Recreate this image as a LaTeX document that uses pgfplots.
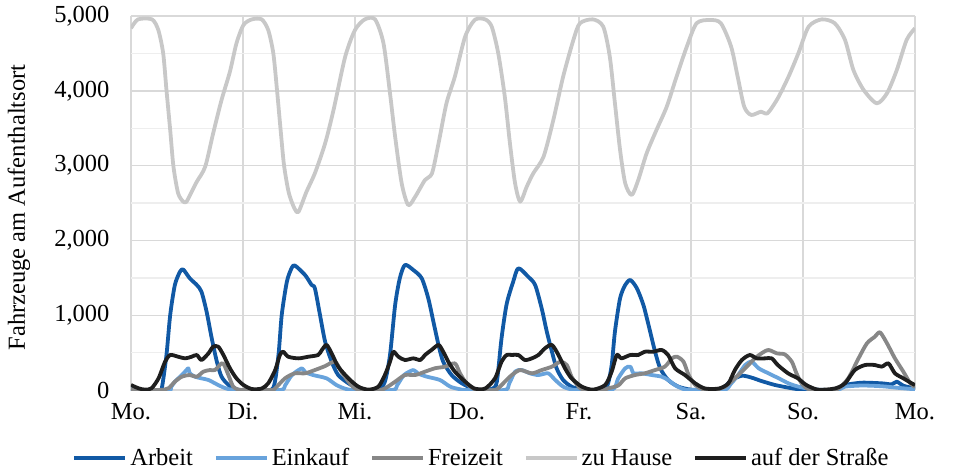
\documentclass[border=0pt]{standalone}
\usepackage{pgfplots}
\pgfplotsset{compat=1.18}
\usepackage{fontspec}
\setmainfont{Liberation Serif}

\definecolor{arbeit}{RGB}{17,89,165}
\definecolor{einkauf}{RGB}{104,163,220}
\definecolor{freizeit}{RGB}{135,135,135}
\definecolor{hause}{RGB}{200,200,200}
\definecolor{strasse}{RGB}{30,30,30}
\definecolor{gridmaj}{RGB}{217,217,217}
\definecolor{gridmin}{RGB}{238,238,238}

\begin{document}
\begin{tikzpicture}
% frame of the whole chart, 955 x 472
\path (-131bp,-82bp) rectangle (824bp,390bp);
\begin{axis}[
    at={(0,0)}, anchor=south west,
    scale only axis,
    width=784bp, height=374bp,
    xmin=0, xmax=168, ymin=0, ymax=5000,
    xtick={0,24,...,168},
    xticklabels={Mo.,Di.,Mi.,Do.,Fr.,Sa.,So.,Mo.},
    ytick={0,1000,...,5000},
    minor ytick={500,1500,...,4500},
    font=\fontsize{24.5bp}{29bp}\selectfont,
    /pgf/number format/.cd, 1000 sep={,}, assume math mode=true,
    /pgfplots/.cd,
    major tick length=0pt, minor tick length=0pt,
    axis line style={draw=none},
    xmajorgrids, ymajorgrids, yminorgrids,
    major grid style={gridmaj, line width=1.4bp},
    minor grid style={gridmin, line width=1.4bp},
    yticklabel style={xshift=-18bp},
    xticklabel style={yshift=-10bp},
    ylabel={Fahrzeuge am Aufenthaltsort},
    ylabel style={at={(axis description cs:-0.143,0.488)}, anchor=center},
    legend columns=5,
    legend style={draw=none, fill=none, at={(axis description cs:0.4477,-0.182)}, anchor=center,
        /tikz/every even column/.append style={column sep=18bp},
        nodes={inner xsep=3bp}},
    legend image code/.code={\draw[#1, sharp plot] (0bp,0bp) -- (51bp,0bp);},
]
\pgfplotsset{series/.style={#1, line width=3.8bp, line join=round, smooth, tension=0.45}}

\addplot[series=arbeit] coordinates {
(0,5) (3,0) (6,0) (6.6,23) (7.6,468) (8.4,1003) (9.4,1404) (10.5,1582) (11.2,1610)
(12.6,1493) (14.1,1404) (15.1,1314) (16.2,1047) (17.3,691) (18.4,378) (19.4,178)
(20.9,67) (22.5,10) (24,0) (28,0) (30.5,30) (31.6,468) (32.3,1003) (33.4,1448)
(34.4,1627) (35.1,1665) (37.3,1537) (38.7,1404) (39.4,1360) (40.5,1003) (41.6,646)
(43,378) (44.4,200) (46.6,89) (48.6,20) (50,0) (53,0) (54.4,111) (55.5,468)
(56.6,1136) (57.6,1493) (58.7,1671) (60.5,1604) (62.3,1493) (63.7,1226) (64.8,913)
(65.9,602) (66.9,378) (68.7,200) (70.9,89) (73.6,10) (76,0) (77.5,20) (78.4,111)
(79.4,691) (80.5,1150) (81.9,1448) (83,1627) (85.1,1515) (86.6,1404) (88,1092)
(89.1,780) (90.2,512) (91.2,290) (92.6,134) (94.4,45) (96.6,5) (100,0) (102,50)
(103,334) (103.7,780) (104.8,1226) (105.9,1404) (107,1470) (108.4,1360) (109.8,1136)
(110.9,869) (112.3,512) (113.4,290) (115.1,134) (117.3,45) (120,5) (124,0) (126,10)
(127.5,60) (128.7,134) (130.9,191) (133,165) (135.1,120) (138,67) (140.9,31)
(143,10) (146,0) (150,0) (152,30) (153,67) (156.6,98) (160.9,89) (163,76)
(164.1,111) (165.5,57) (168,20)
};
\addlegendentry{Arbeit}

\addplot[series=einkauf] coordinates {
(0,0) (8,0) (8.5,30) (9.4,111) (10.9,200) (11.9,267) (12.3,290) (12.6,223) (13.7,178)
(15.1,156) (16.6,134) (18,89) (19.4,45) (21,10) (24,0) (32,0) (33,60) (34.5,200)
(36.6,290) (37.3,240) (39,200) (41.9,156) (44,67) (46,15) (48,0) (56,0) (57,60)
(58.5,200) (60.5,267) (61.5,220) (63.4,178) (66.2,134) (68.4,45) (70.5,10) (72,0)
(80,0) (81,80) (82.3,245) (83.7,267) (85.5,223) (87.3,200) (89.4,223) (90.9,134)
(92.6,45) (94.5,5) (96,0) (103,0) (104.4,156) (105.9,290) (107,312) (107.7,223)
(109.4,223) (111.6,200) (113.7,178) (115.1,134) (116.7,60) (118.5,10) (120,0)
(127,0) (128.5,80) (130.1,200) (131.6,334) (133,378) (134.5,290) (136.6,223)
(138.8,156) (140.9,89) (143,45) (146,10) (150,0) (152,15) (153,45) (156.6,60)
(160.9,50) (165,25) (168,10)
};
\addlegendentry{Einkauf}

\addplot[series=freizeit] coordinates {
(0,0) (6,0) (8,23) (9.4,111) (10.9,178) (12.6,200) (14.1,178) (15.5,245) (16.9,267)
(18,267) (19.4,356) (20,330) (21,180) (21.9,45) (23,5) (24,0) (30,0) (30.9,23)
(33,156) (35.1,223) (37.3,223) (39.4,267) (41.6,320) (43.7,378) (45.1,245)
(46.6,111) (48,20) (49,0) (53,0) (54.4,20) (56.6,111) (58.7,200) (60.9,200)
(63,245) (65.1,290) (67.3,312) (69.4,356) (70.5,223) (71.9,89) (73.6,10) (75,0)
(78,0) (79,40) (80.1,111) (81.6,200) (83.4,267) (85.9,223) (88,267) (90.2,312)
(92,378) (93.4,334) (94.4,178) (95.9,45) (97,5) (101,0) (102.3,23) (104.4,60)
(105.9,156) (108,200) (110.1,223) (112.3,267) (114.4,312) (115.9,423) (117,445)
(118.4,378) (119.5,200) (120.9,67) (122.5,10) (125,0) (127.3,45) (129.4,156)
(131.6,290) (133.7,423) (135.1,490) (136.6,535) (138.4,490) (140.1,476) (141.6,378)
(142.6,223) (143.7,89) (145,15) (147,0) (150,0) (151.5,15) (153.7,156) (155.9,423)
(157.7,624) (159.4,713) (160.5,771) (162,624) (163.7,423) (165.5,245) (167,89)
(168,40)
};
\addlegendentry{Freizeit}

\addplot[series=hause] coordinates {
(0,4836) (1.5,4955) (4.5,4955) (5.85,4813) (6.9,4500) (7.6,4010) (8.4,3475)
(9.1,2985) (10.1,2630) (11.2,2518) (11.9,2518) (13,2650) (14.1,2785) (15.9,2985)
(17.6,3430) (19.4,3877) (21.2,4256) (22.6,4635) (24.1,4880) (25.9,4955) (28,4955)
(29.4,4813) (30.5,4500) (31.3,4000) (32.1,3450) (32.8,3000) (33.8,2640) (35,2430)
(35.9,2384) (37.6,2650) (39.4,2897) (41.6,3298) (43.4,3744) (45.9,4456) (48,4813)
(50.1,4955) (52.3,4955) (54.1,4635) (55.5,3967) (56.6,3387) (58,2764) (59.4,2473)
(60.9,2584) (63,2808) (64.5,2897) (65.9,3298) (67.6,3833) (69.4,4189) (71.6,4724)
(73.7,4950) (75.9,4955) (77.3,4857) (78.7,4500) (80.1,3922) (81.2,3298) (82.3,2764)
(83.4,2518) (84.8,2718) (86.2,2897) (88.4,3119) (90.5,3610) (92.6,4189) (94.8,4680)
(96.2,4903) (99,4955) (101.2,4857) (102.6,4456) (103.7,3833) (104.8,3209)
(105.9,2764) (107.3,2607) (108.7,2808) (110.5,3165) (112.6,3476) (114.8,3788)
(116.9,4189) (119.1,4590) (121.2,4903) (124.1,4947) (126.4,4903) (128.6,4590)
(130,4189) (131.4,3788) (132.9,3677) (135,3721) (136.4,3700) (138.6,3900)
(140.9,4189) (143,4500) (145.2,4857) (148,4955) (150.8,4903) (153,4680)
(154.8,4278) (157,4011) (159.8,3833) (162,3967) (164.1,4278) (166.2,4680)
(168,4836)
};
\addlegendentry{zu Hause}

\addplot[series=strasse] coordinates {
(0,67) (1.6,23) (3,5) (4.4,23) (5.9,156) (7.3,378) (8.4,468) (10.1,445) (11.6,423)
(13,445) (14.1,468) (15.1,401) (16.6,490) (17.6,579) (18.7,579) (19.8,468)
(21.2,290) (22.6,156) (24.1,67) (25.9,13) (28,20) (29.4,89) (30.9,267) (31.9,468)
(32.6,512) (33.7,445) (35.9,423) (38,445) (40.1,468) (40.9,535) (41.9,602) (43,490)
(44.4,312) (46.6,156) (48.7,45) (50.9,5) (53,45) (54.4,200) (55.5,378) (56.2,512)
(57.3,445) (58.7,401) (60.5,423) (62,401) (63,468) (64.4,535) (65.9,602) (66.9,512)
(68,378) (69.4,245) (71.6,111) (73.6,20) (75.9,20) (78,156) (79.4,378) (80.5,468)
(81.6,468) (83,468) (84.4,401) (85.9,423) (87.3,468) (88.7,557) (90.2,602)
(91.6,468) (93,290) (94.4,156) (96.6,45) (99,5) (101.6,67) (103,245) (104.1,468)
(105.1,423) (107,468) (108.7,468) (110.1,512) (111.9,512) (113.7,535) (115.1,468)
(116.6,290) (118.7,200) (120.9,89) (123,20) (126,20) (128,89) (129.4,267)
(130.9,401) (132.6,468) (134.1,423) (135.9,423) (137.3,423) (138.6,334) (140.8,223)
(142.9,156) (144.7,67) (147.2,5) (150.8,20) (153,89) (155.1,267) (157.3,334)
(159.4,334) (160.9,312) (162.3,356) (163.7,223) (165.5,156) (167.3,89) (168,67)
};
\addlegendentry{auf der Straße}

\end{axis}
\end{tikzpicture}
\end{document}
